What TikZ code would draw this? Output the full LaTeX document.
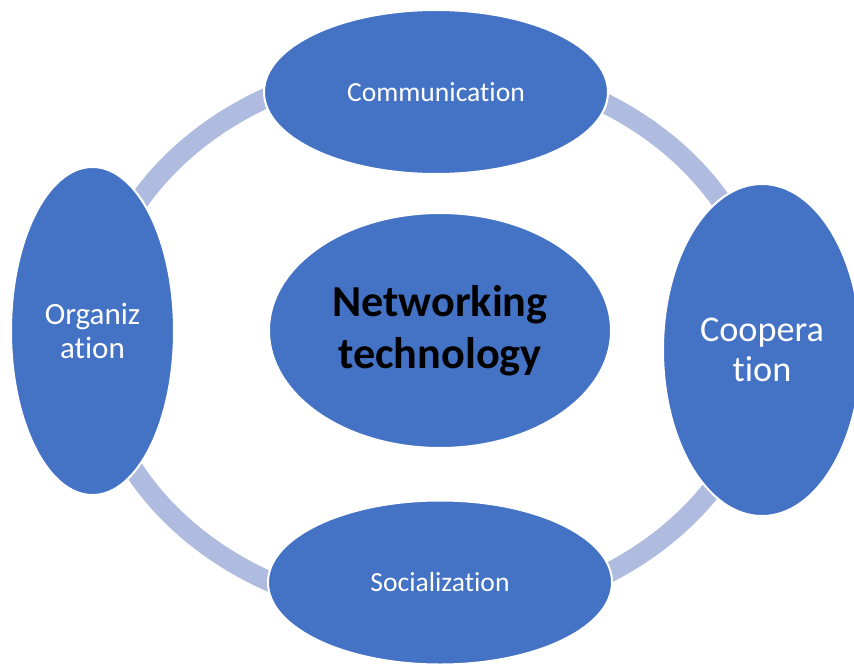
\documentclass[tikz,border=0pt]{standalone}
\usepackage{fontspec}
\setmainfont{Carlito}[Ligatures=NoCommon]
\usetikzlibrary{shapes.geometric}
\definecolor{nodeblue}{HTML}{4472C4}
\definecolor{ringblue}{HTML}{B0BCDF}
\tikzset{
  bubble/.style={ellipse, fill=nodeblue, draw=white, line width=2bp, inner sep=0pt, outer sep=0pt, text=white, align=center},
  ringline/.style={draw=ringblue, line width=20bp}
}
\begin{document}
\begin{tikzpicture}[x=1bp,y=-1bp]
\useasboundingbox (0,0) rectangle (854,664);
\clip (0,0) rectangle (854,664);
\coordinate (ringc) at (430,339);
\draw[ringline] (ringc) ellipse [x radius=336, y radius=276];
\node[bubble, minimum width=344bp, minimum height=164bp, font=\fontsize{27.7}{31}\selectfont] (comm) at (436,92) {Communication};
\node[bubble, minimum width=344bp, minimum height=164bp, font=\fontsize{27.7}{31}\selectfont] (soc) at (440,582.5) {Socialization};
\node[bubble, minimum width=163bp, minimum height=328bp, font=\fontsize{31.1}{34.8}\selectfont] (org) at (92.5,331) {Organiz\\ation};
\node[bubble, minimum width=198bp, minimum height=332bp, font=\fontsize{36.4}{40.7}\selectfont] (coop) at (762,350) {Coopera\\tion};
\node[bubble, minimum width=342bp, minimum height=235bp, text=black, font=\fontsize{44.4}{51.7}\selectfont\bfseries] (net) at (440,330.5) {Networking\\technology};
\end{tikzpicture}
\end{document}
